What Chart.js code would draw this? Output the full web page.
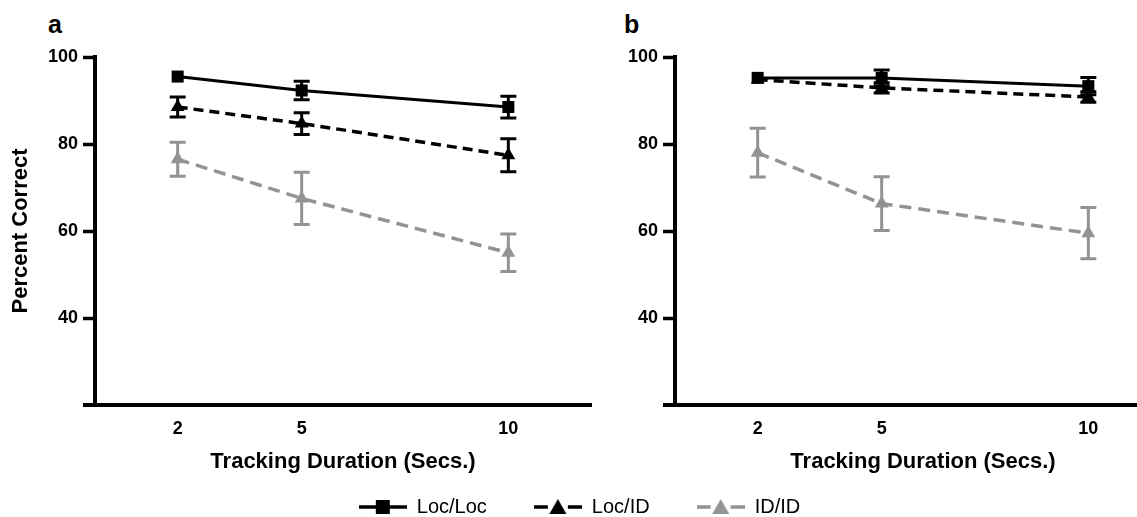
<!DOCTYPE html>
<html>
<head>
<meta charset="utf-8">
<script src="https://cdn.jsdelivr.net/npm/chart.js@4.4.1/dist/chart.umd.min.js"></script>
<style>
  html, body { margin: 0; padding: 0; background: #fff; overflow: hidden; }
  body { width: 1137px; height: 517px; position: relative; overflow: hidden; font-family: "Liberation Sans", Arial, sans-serif; }
  .panel { position: absolute; top: 0; height: 480px; width: 600px; }
  .tag { position: absolute; top: 12px; font-weight: bold; font-size: 25px; line-height: 25px; }
</style>
</head>
<body>
<div class="tag" style="left:48px">a</div>
<div class="tag" style="left:624px">b</div>
<div class="panel" style="left:0"><canvas id="chartA"></canvas></div>
<div class="panel" style="left:580px"><canvas id="chartB"></canvas></div>
<div style="position:absolute;left:0;top:450px;width:1137px;height:300px"><canvas id="legend"></canvas></div>

<script>
// values
const durations = [2, 5, 10];
const seriesNames = ['Loc/Loc', 'Loc/ID', 'ID/ID'];
const yTicks = [40, 60, 80, 100];

// panel a
const aLocLoc = [95.5, 92.3, 88.5];
const aLocLocErr = [0, 2.1, 2.5];
const aLocId = [88.5, 84.7, 77.4];
const aLocIdErr = [2.3, 2.5, 3.8];
const aIdId = [76.5, 67.5, 55.0];
const aIdIdErr = [3.9, 6.0, 4.3];

// panel b
const bLocLoc = [95.2, 95.2, 93.3];
const bLocLocErr = [0, 1.8, 2.0];
const bLocId = [94.8, 92.9, 90.8];
const bLocIdErr = [0, 1.2, 1.2];
const bIdId = [78.0, 66.3, 59.5];
const bIdIdErr = [5.6, 6.2, 5.9];

const BLACK = '#000';
const GREY = '#939393';
const FONT = '"Liberation Sans", Arial, sans-serif';
Chart.defaults.font.family = FONT;
Chart.defaults.color = BLACK;

// vertical SEM bars with caps, drawn from the y scale
const errorBars = {
  id: 'errorBars',
  afterDatasetDraw(chart, args) {
    const ds = chart.data.datasets[args.index];
    if (!ds.errors) return;
    const y = chart.scales.y;
    const ctx = chart.ctx;
    ctx.save();
    ctx.strokeStyle = ds.borderColor;
    ctx.lineWidth = 3;
    args.meta.data.forEach((pt, i) => {
      const e = ds.errors[i];
      if (!e) return;
      const v = ds.data[i].y;
      const top = y.getPixelForValue(v + e);
      const bot = y.getPixelForValue(v - e);
      ctx.beginPath();
      ctx.moveTo(pt.x, top); ctx.lineTo(pt.x, bot);
      ctx.moveTo(pt.x - 8, top); ctx.lineTo(pt.x + 8, top);
      ctx.moveTo(pt.x - 8, bot); ctx.lineTo(pt.x + 8, bot);
      ctx.stroke();
    });
    ctx.restore();
  }
};

// x axis line sticks out a little left of the y axis
const axisStub = {
  id: 'axisStub',
  afterDraw(chart) {
    const {ctx, chartArea} = chart;
    ctx.save();
    ctx.fillStyle = BLACK;
    ctx.fillRect(chartArea.left - 12, chartArea.bottom - 2, 12, 4);
    ctx.restore();
  }
};

function pts(vals) {
  return durations.map((d, i) => ({x: d, y: vals[i]}));
}

function panelConfig(locLoc, locLocErr, locId, locIdErr, idId, idIdErr, showYTitle) {
  return {
    type: 'line',
    data: {
      datasets: [
        {
          label: seriesNames[0], data: pts(locLoc), errors: locLocErr,
          borderColor: BLACK, borderWidth: 3,
          pointStyle: 'rect', pointRadius: 8.5, pointBackgroundColor: BLACK, pointBorderWidth: 0,
          order: 2
        },
        {
          label: seriesNames[1], data: pts(locId), errors: locIdErr,
          borderColor: BLACK, borderWidth: 3.5, borderDash: [10, 6],
          pointStyle: 'triangle', pointRadius: 8, pointBackgroundColor: BLACK, pointBorderWidth: 0,
          order: 1
        },
        {
          label: seriesNames[2], data: pts(idId), errors: idIdErr,
          borderColor: GREY, borderWidth: 3.5, borderDash: [12, 7],
          pointStyle: 'triangle', pointRadius: 8, pointBackgroundColor: GREY, pointBorderWidth: 0,
          order: 3
        }
      ]
    },
    options: {
      responsive: true,
      maintainAspectRatio: false,
      animation: false,
      events: [],
      layout: {padding: {top: 57, right: 9, left: 0, bottom: 0}},
      plugins: {legend: {display: false}, tooltip: {enabled: false}},
      scales: {
        x: {
          type: 'linear', min: 0, max: 12,
          afterBuildTicks: s => { s.ticks = durations.map(v => ({value: v})); },
          afterFit: s => { s.height = 75; },
          ticks: {font: {size: 18, weight: 'bold'}, color: BLACK, padding: 13},
          grid: {display: false, drawTicks: false},
          border: {color: BLACK, width: 4},
          title: {
            display: true, text: 'Tracking Duration (Secs.)', color: BLACK,
            font: {size: 22, weight: 'bold'}, padding: {top: 0, bottom: 5}
          }
        },
        y: {
          min: 20, max: 100,
          afterBuildTicks: s => { s.ticks = yTicks.map(v => ({value: v})); },
          afterFit: s => { s.width = 95; },
          ticks: {font: {size: 18, weight: 'bold'}, color: BLACK, padding: 5},
          grid: {drawOnChartArea: false, drawTicks: true, tickLength: 12, tickWidth: 3.5, color: BLACK},
          border: {color: BLACK, width: 4},
          title: {
            display: showYTitle, text: 'Percent Correct', color: BLACK,
            font: {size: 22, weight: 'bold'}, padding: {top: 8, bottom: 0}
          }
        }
      }
    },
    plugins: [errorBars, axisStub]
  };
}

new Chart(document.getElementById('chartA'),
  panelConfig(aLocLoc, aLocLocErr, aLocId, aLocIdErr, aIdId, aIdIdErr, true));
new Chart(document.getElementById('chartB'),
  panelConfig(bLocLoc, bLocLocErr, bLocId, bLocIdErr, bIdId, bIdIdErr, false));

// legend symbols: line with the marker in the middle
function legendSymbol(color, dashed, shape) {
  const c = document.createElement('canvas');
  c.width = 48; c.height = 18;
  const g = c.getContext('2d');
  g.strokeStyle = color; g.fillStyle = color; g.lineWidth = 3.5;
  g.beginPath();
  if (dashed) { g.moveTo(0, 9); g.lineTo(14, 9); g.moveTo(34, 9); g.lineTo(48, 9); }
  else { g.moveTo(0, 9); g.lineTo(48, 9); }
  g.stroke();
  g.beginPath();
  if (shape === 'rect') g.rect(17, 2, 14, 14);
  else { g.moveTo(24, 1); g.lineTo(32.5, 16); g.lineTo(15.5, 16); g.closePath(); }
  g.fill();
  return c;
}
const symbols = [
  legendSymbol(BLACK, false, 'rect'),
  legendSymbol(BLACK, true, 'triangle'),
  legendSymbol(GREY, true, 'triangle')
];

// legend-only chart, placed under both panels (its canvas runs past the window bottom)
new Chart(document.getElementById('legend'), {
  type: 'line',
  data: {datasets: seriesNames.map(n => ({label: n, data: []}))},
  options: {
    responsive: true,
    maintainAspectRatio: false,
    animation: false,
    events: [],
    layout: {padding: {left: 22}},
    scales: {x: {display: false}, y: {display: false}},
    plugins: {
      tooltip: {enabled: false},
      legend: {
        display: true,
        position: 'top',
        labels: {
          usePointStyle: true, pointStyleWidth: 48, padding: 47,
          font: {size: 20}, color: BLACK,
          generateLabels: () => seriesNames.map((n, i) => ({
            text: n, pointStyle: symbols[i], fillStyle: BLACK, strokeStyle: BLACK,
            lineWidth: 0, hidden: false, datasetIndex: i, fontColor: BLACK
          }))
        }
      }
    }
  }
});
</script>
</body>
</html>
